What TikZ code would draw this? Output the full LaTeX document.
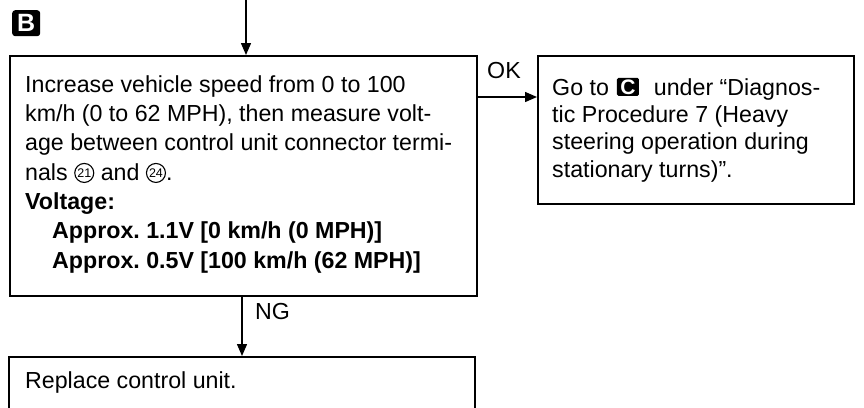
\documentclass[tikz,border=0pt]{standalone}
\usepackage{fontspec}
\setmainfont{Liberation Sans}
\usetikzlibrary{arrows.meta}
\frenchspacing
\newcommand\cnum[1]{\tikz[baseline=0pt]\node[circle,draw,line width=1.1pt,inner sep=0pt,minimum size=19pt,anchor=south,yshift=-3pt,font=\fontsize{12.5}{12.5}\selectfont]{#1};}
\newcommand\badgeC{\tikz[baseline=0pt]\node[fill=black,text=white,rounded corners=1.5pt,minimum width=22pt,minimum height=18pt,inner sep=0pt,anchor=south,yshift=-1pt,font=\fontsize{21}{21}\selectfont\bfseries]{C};}
\begin{document}
\begin{tikzpicture}[x=1pt,y=-1pt,
  box/.style={draw,line width=1.5pt,anchor=north west,inner sep=0pt},
  arr/.style={-{Triangle[length=12pt,width=10pt]},line width=1.4pt},
  txt/.style={anchor=base west,inner sep=0pt,font=\fontsize{23.2}{28}\selectfont},
  btxt/.style={anchor=base west,inner sep=0pt,font=\fontsize{23.2}{28}\selectfont\bfseries}]
\useasboundingbox (0,0) rectangle (864,407);
\fill[white] (0,0) rectangle (864,407);
% boxes
\node[box,minimum width=467pt,minimum height=240pt] (b1) at (9,55) {};
\node[box,minimum width=316pt,minimum height=148pt] (b2) at (537,55) {};
\node[box,minimum width=466pt,minimum height=120pt] (b3) at (8,356) {};
% badge B
\node[fill=black,rounded corners=3pt,minimum width=28pt,minimum height=26pt,inner sep=0pt,anchor=north west,text=white,font=\fontsize{25}{25}\selectfont\bfseries] (badgeB) at (12,10) {B};
% connectors
\coordinate (src) at (246,0);
\draw[arr] (src) -- (src |- b1.north);
\coordinate (okrow) at (0,97);
\draw[arr] (b1.east |- okrow) -- (b2.west |- okrow);
\coordinate (ngcol) at (242,0);
\draw[arr] (b1.south -| ngcol) -- (b3.north -| ngcol);
\node[txt] (ok) at (487,78) {OK};
\node[txt] (ng) at (255,319) {NG};
% box 1 text
\node[txt] (l1) at (25,92) {Increase vehicle speed from 0 to 100};
\node[txt] (l2) at (25,121.3) {km/h (0 to 62 MPH), then measure volt-};
\node[txt] (l3) at (25,150.7) {age between control unit connector termi-};
\node[txt] (l4) at (25,180) {nals \cnum{21} and \cnum{24}.};
\node[btxt] (l5) at (25,209.3) {Voltage:};
\node[btxt] (l6) at (52,238.7) {Approx. 1.1V [0 km/h (0 MPH)]};
\node[btxt] (l7) at (52,268) {Approx. 0.5V [100 km/h (62 MPH)]};
% box 2 text
\node[txt] (r1) at (552,95) {Go to\hspace{8pt}\badgeC\hspace{15pt}under “Diagnos-};
\node[txt] (r2) at (552,122.3) {tic Procedure 7 (Heavy};
\node[txt] (r3) at (552,149.7) {steering operation during};
\node[txt] (r4) at (552,177) {stationary turns)”.};
% box 3 text
\node[txt] (s1) at (25,388) {Replace control unit.};
\end{tikzpicture}
\end{document}
